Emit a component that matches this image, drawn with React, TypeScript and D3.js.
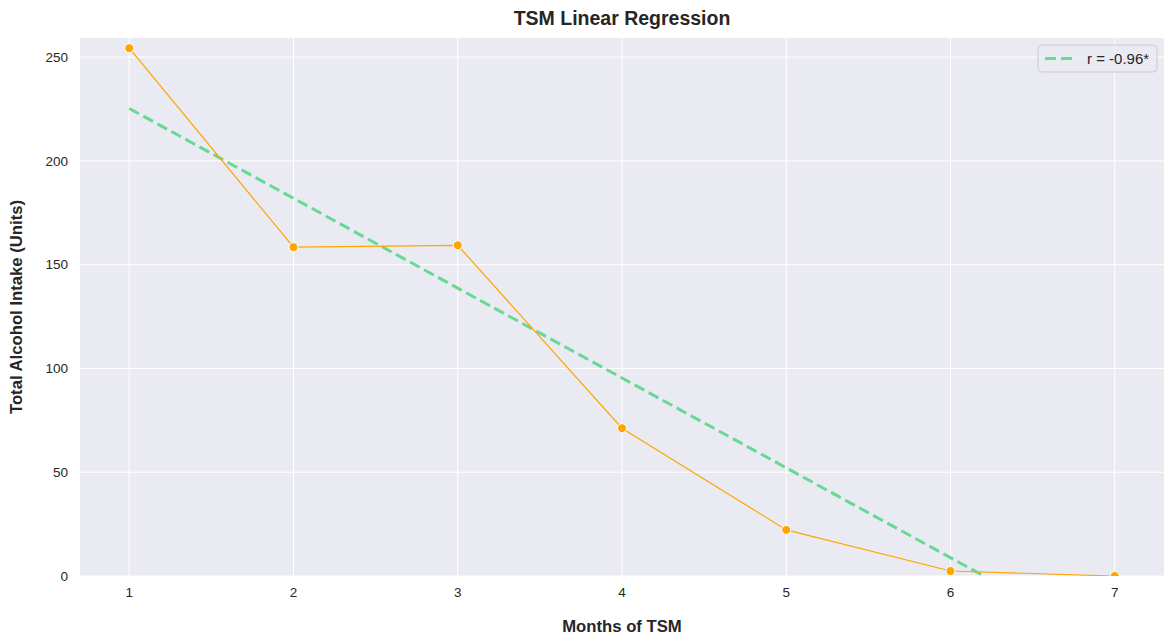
import { useEffect, useRef } from "react"
import * as d3 from "d3"

const months = [1, 2, 3, 4, 5, 6, 7]
const intake = [254.3, 158.4, 159.3, 71.2, 22.2, 2.4, 0]
const xTicks = [1, 2, 3, 4, 5, 6, 7]
const yTicks = [0, 50, 100, 150, 200, 250]
const legendLabel = "r = -0.96*"

export default function App() {
  const svgRef = useRef<SVGSVGElement>(null)

  useEffect(() => {
    if (!svgRef.current) return
    const svg = d3.select(svgRef.current)
    svg.selectAll("*").remove()

    const width = 1173
    const height = 644
    const left = 80
    const right = 1164
    const top = 38
    const bottom = 576
    const font = "'Liberation Sans', Arial, sans-serif"

    svg.attr("width", width).attr("height", height)

    const x = d3.scaleLinear().domain([0.7, 7.3]).range([left, right])
    const y = d3.scaleLinear().domain([0, 259.2]).range([bottom, top])

    // background + clip
    svg.append("rect")
      .attr("x", left).attr("y", top)
      .attr("width", right - left).attr("height", bottom - top)
      .attr("fill", "#eaeaf2")

    svg.append("defs").append("clipPath").attr("id", "plot-clip")
      .append("rect")
      .attr("x", left).attr("y", top)
      .attr("width", right - left).attr("height", bottom - top)

    // grid
    const grid = svg.append("g")
    grid.selectAll(".gx").data(xTicks).enter().append("line")
      .attr("x1", (d) => x(d)).attr("x2", (d) => x(d))
      .attr("y1", top).attr("y2", bottom)
      .attr("stroke", "#ffffff").attr("stroke-width", 1)
    grid.selectAll(".gy").data(yTicks).enter().append("line")
      .attr("x1", left).attr("x2", right)
      .attr("y1", (d) => y(d)).attr("y2", (d) => y(d))
      .attr("stroke", "#ffffff").attr("stroke-width", 1)

    // tick labels
    svg.append("g").selectAll("text").data(xTicks).enter().append("text")
      .attr("x", (d) => x(d)).attr("y", bottom + 21)
      .attr("text-anchor", "middle")
      .style("font-family", font).style("font-size", "13.5px").style("fill", "#262626")
      .text((d) => d)
    svg.append("g").selectAll("text").data(yTicks).enter().append("text")
      .attr("x", left - 12).attr("y", (d) => y(d)).attr("dy", "0.35em")
      .attr("text-anchor", "end")
      .style("font-family", font).style("font-size", "13.5px").style("fill", "#262626")
      .text((d) => d)

    // regression fit
    const xm = d3.mean(months) as number
    const ym = d3.mean(intake) as number
    const sxy = d3.sum(months, (m, i) => (m - xm) * (intake[i] - ym))
    const sxx = d3.sum(months, (m) => (m - xm) * (m - xm))
    const slope = sxy / sxx
    const intercept = ym - slope * xm
    const xExtent = d3.extent(months) as [number, number]

    const plot = svg.append("g").attr("clip-path", "url(#plot-clip)")

    plot.append("line")
      .attr("x1", x(xExtent[0])).attr("y1", y(intercept + slope * xExtent[0]))
      .attr("x2", x(xExtent[1])).attr("y2", y(intercept + slope * xExtent[1]))
      .attr("stroke", "#66d995").attr("stroke-width", 3)
      .attr("stroke-dasharray", "11,5")

    const line = d3.line<number>()
      .x((_, i) => x(months[i]))
      .y((d) => y(d))

    plot.append("path")
      .datum(intake)
      .attr("d", line)
      .attr("fill", "none")
      .attr("stroke", "#ffa500").attr("stroke-width", 1.2)

    plot.selectAll("circle").data(intake).enter().append("circle")
      .attr("cx", (_, i) => x(months[i])).attr("cy", (d) => y(d))
      .attr("r", 4.5)
      .attr("fill", "#ffa500").attr("stroke", "#ffffff").attr("stroke-width", 1)

    // title and axis labels
    svg.append("text")
      .attr("x", (left + right) / 2).attr("y", 25)
      .attr("text-anchor", "middle")
      .style("font-family", font).style("font-size", "19.5px").style("font-weight", "bold")
      .style("fill", "#262626")
      .text("TSM Linear Regression")

    svg.append("text")
      .attr("x", (left + right) / 2).attr("y", 632)
      .attr("text-anchor", "middle")
      .style("font-family", font).style("font-size", "16.7px").style("font-weight", "bold")
      .style("fill", "#262626")
      .text("Months of TSM")

    svg.append("text")
      .attr("transform", `translate(22, ${(top + bottom) / 2}) rotate(-90)`)
      .attr("text-anchor", "middle")
      .style("font-family", font).style("font-size", "16.7px").style("font-weight", "bold")
      .style("fill", "#262626")
      .text("Total Alcohol Intake (Units)")

    // legend
    const legend = svg.append("g").attr("transform", "translate(1038, 45)")
    legend.append("rect")
      .attr("width", 119).attr("height", 27).attr("rx", 4)
      .attr("fill", "#eaeaf2").attr("fill-opacity", 0.8)
      .attr("stroke", "#cccccc").attr("stroke-width", 1)
    legend.append("line")
      .attr("x1", 7).attr("x2", 36).attr("y1", 13.5).attr("y2", 13.5)
      .attr("stroke", "#66d995").attr("stroke-width", 3)
      .attr("stroke-dasharray", "11,5")
    legend.append("text")
      .attr("x", 49).attr("y", 13.5).attr("dy", "0.35em")
      .style("font-family", font).style("font-size", "15px").style("fill", "#262626")
      .text(legendLabel)
  }, [])

  return (
    <div>
      <svg ref={svgRef} style={{ display: "block", margin: "-8px" }}></svg>
    </div>
  )
}
